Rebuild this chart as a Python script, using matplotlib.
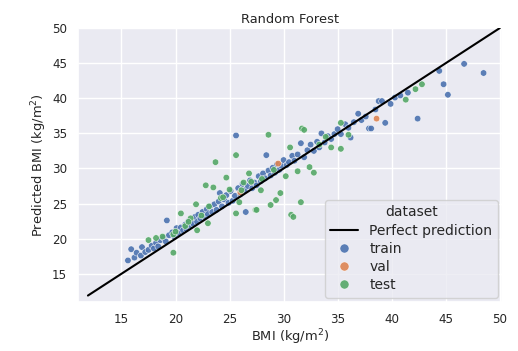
import numpy as np
import pandas as pd
import matplotlib
matplotlib.use("Agg")
import matplotlib.pyplot as plt
import seaborn as sns

# true BMI vs predicted BMI
train_true = [15.6, 15.9, 16.2, 16.4, 16.8, 16.9, 17.2, 17.5, 17.8, 18.0,
              18.2, 18.4, 18.6, 18.9, 19.1, 19.2, 19.4, 19.7, 19.9, 20.1,
              20.3, 20.5, 20.7, 20.9, 21.0, 21.2, 21.4, 21.6, 21.8, 22.0,
              22.1, 22.3, 22.5, 22.7, 22.9, 23.0, 23.2, 23.4, 23.6, 23.8,
              24.0, 24.1, 24.3, 24.5, 24.7, 24.9, 25.1, 25.3, 25.5, 25.6,
              25.8, 26.0, 26.2, 26.4, 26.5, 26.7, 26.9, 27.1, 27.3, 27.5,
              27.7, 27.9, 28.1, 28.3, 28.4, 28.6, 28.8, 29.0, 29.2, 29.4,
              29.6, 29.8, 30.0, 30.3, 30.5, 30.8, 31.0, 31.3, 31.6, 31.9,
              32.2, 32.5, 32.8, 33.1, 33.3, 33.5, 33.8, 34.1, 34.4, 34.7,
              35.0, 35.3, 35.7, 36.0, 36.2, 36.5, 36.9, 37.2, 37.6, 37.9,
              38.1, 38.5, 38.8, 39.1, 39.4, 39.9, 40.3, 40.8, 41.5, 42.4,
              44.4, 44.8, 45.2, 46.7, 48.5]
train_pred = [16.9, 18.5, 17.3, 18.0, 17.6, 18.8, 18.1, 18.4, 19.0, 18.6,
              19.4, 18.9, 19.8, 20.1, 19.6, 22.6, 20.5, 20.9, 20.3, 21.5,
              20.8, 21.6, 21.2, 22.0, 21.4, 22.5, 21.9, 22.2, 23.1, 22.4,
              23.4, 22.9, 23.8, 23.1, 24.2, 23.5, 24.6, 23.8, 24.9, 24.1,
              25.3, 26.5, 24.6, 25.6, 26.2, 25.1, 26.8, 25.4, 26.1, 34.7,
              27.2, 26.3, 27.8, 26.9, 23.8, 27.5, 28.3, 27.2, 28.0, 27.6,
              28.9, 28.2, 29.3, 28.6, 31.9, 29.7, 29.0, 30.1, 29.4, 30.6,
              29.8, 30.4, 31.2, 30.5, 30.9, 31.8, 31.1, 32.0, 33.6, 31.6,
              32.6, 33.4, 32.5, 33.8, 33.0, 35.0, 33.7, 34.6, 34.2, 34.9,
              35.6, 34.9, 36.3, 35.8, 34.4, 36.6, 37.8, 36.9, 37.4, 35.7,
              35.7, 38.4, 39.6, 39.6, 36.5, 39.2, 40.1, 40.4, 40.8, 37.1,
              43.9, 42.0, 40.5, 44.9, 43.6]

val_true = [26.0, 29.5, 38.6]
val_pred = [26.6, 30.7, 37.1]

test_true = [17.5, 18.2, 19.8, 19.8, 20.5, 20.9, 21.4, 21.9, 22.4, 22.8,
             23.1, 23.5, 23.7, 24.2, 24.7, 25.0, 25.6, 25.6, 26.1, 26.8,
             27.0, 27.4, 27.5, 28.0, 28.6, 28.8, 29.1, 29.3, 29.7, 30.2,
             30.6, 30.7, 30.9, 31.3, 31.6, 31.7, 31.9, 32.4, 32.8, 33.3,
             34.4, 35.3, 35.3, 36.0, 41.3, 42.2, 42.8, 22.0, 23.0, 24.4,
             25.9, 20.0, 18.8, 21.2, 26.3, 27.9, 33.9]
test_pred = [19.8, 20.1, 18.0, 20.6, 23.6, 21.8, 22.9, 24.9, 23.3, 27.6,
             24.6, 27.3, 30.9, 25.8, 28.7, 27.0, 31.9, 23.6, 26.9, 29.3,
             28.1, 24.1, 24.1, 28.5, 34.8, 24.8, 29.8, 25.5, 26.5, 28.9,
             33.0, 23.4, 23.1, 29.6, 25.2, 35.7, 35.5, 30.2, 29.4, 33.4,
             33.0, 36.5, 32.8, 34.8, 39.8, 41.3, 42.0, 21.2, 22.2, 25.9,
             25.2, 21.0, 20.3, 22.4, 28.0, 26.9, 34.5]

line_lims = [11.9, 50.0]

df = pd.concat([
    pd.DataFrame({"true": train_true, "pred": train_pred, "dataset": "train"}),
    pd.DataFrame({"true": val_true, "pred": val_pred, "dataset": "val"}),
    pd.DataFrame({"true": test_true, "pred": test_pred, "dataset": "test"}),
], ignore_index=True)

sns.set_theme(style="darkgrid", font_scale=0.78)

fig = plt.figure(figsize=(5.18, 3.51), dpi=100)
ax = fig.add_axes([0.151, 0.140, 0.818, 0.780])

ax.plot(line_lims, line_lims, color="black", lw=1.5, label="Perfect prediction", zorder=3)
sns.scatterplot(data=df, x="true", y="pred", hue="dataset", s=22, alpha=0.9,
                linewidth=0.4, ax=ax, zorder=2)

ax.set_xlim(11.0, 50.2)
ax.set_ylim(11.0, 50.0)
ax.set_xticks([15, 20, 25, 30, 35, 40, 45, 50])
ax.set_yticks([15, 20, 25, 30, 35, 40, 45, 50])
ax.set_xlabel("BMI (kg/m$^2$)", labelpad=1)
ax.set_ylabel("Predicted BMI (kg/m$^2$)", labelpad=2)
ax.set_title("Random Forest", pad=4)
ax.tick_params(pad=2)

ax.legend(title="dataset", loc="lower right", fontsize=10, title_fontsize=10,
          markerscale=1.4, borderaxespad=0.3, labelspacing=0.3)

fig.savefig("out.png", dpi=100)
